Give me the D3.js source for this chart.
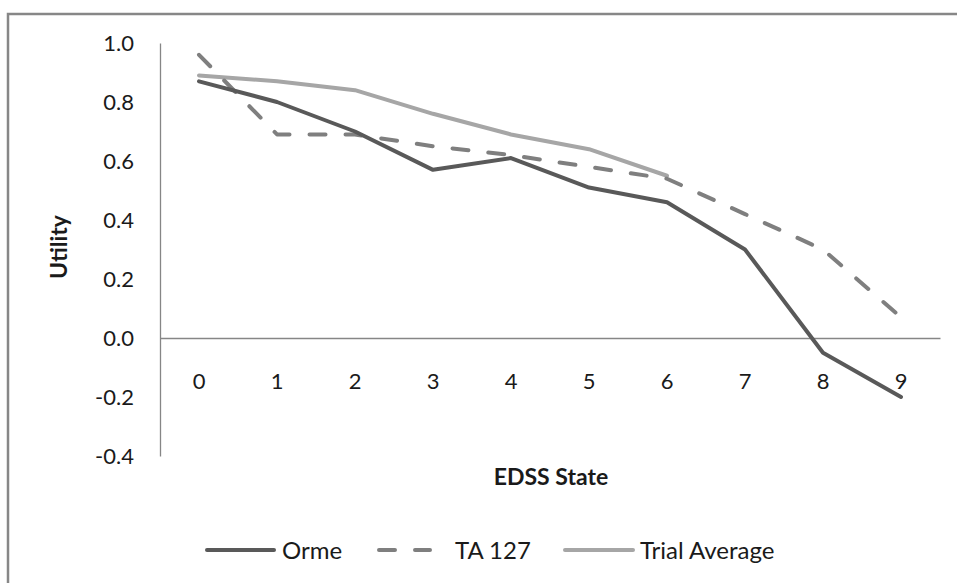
<!DOCTYPE html>
<html>
<head>
<meta charset="utf-8">
<script src="https://cdn.jsdelivr.net/npm/d3@7"></script>
<style>
  html, body { margin: 0; padding: 0; background: #fff; }
  svg { display: block; }
  text { font-family: Lato, "Open Sans", sans-serif; fill: #1a1a1a; }
</style>
</head>
<body>
<svg id="chart" width="957" height="583"></svg>
<script>
// EDSS states on the category axis
const edssStates = ["0", "1", "2", "3", "4", "5", "6", "7", "8", "9"];
// Utility values per EDSS state for each source
const ormeValues = [0.87, 0.80, 0.70, 0.57, 0.61, 0.51, 0.46, 0.30, -0.05, -0.20];
const ta127Values = [0.96, 0.69, 0.69, 0.65, 0.62, 0.58, 0.54, 0.42, 0.30, 0.07];
const trialAverageValues = [0.89, 0.87, 0.84, 0.76, 0.69, 0.64, 0.55];
const seriesNames = ["Orme", "TA 127", "Trial Average"];
const yTickValues = [-0.4, -0.2, 0.0, 0.2, 0.4, 0.6, 0.8, 1.0];

const svg = d3.select("#chart");

// chart-area frame
svg.append("rect")
  .attr("x", 8).attr("y", 14)
  .attr("width", 1000).attr("height", 700)
  .attr("fill", "none").attr("stroke", "#878787").attr("stroke-width", 2.5);

const plot = { left: 160, right: 940, top: 43, bottom: 456 };

const x = d3.scaleBand().domain(edssStates).range([plot.left, plot.right]);
const y = d3.scaleLinear().domain([-0.4, 1.0]).range([plot.bottom, plot.top]);

// value axis
const yAxis = svg.append("g")
  .attr("transform", `translate(${plot.left},0)`)
  .call(d3.axisLeft(y).tickValues(yTickValues).tickFormat(d3.format(".1f")).tickSize(0).tickPadding(26));
yAxis.select(".domain").attr("stroke", "#868686").attr("stroke-width", 1.3);
yAxis.selectAll("text").style("font-size", "22px").attr("fill", "#1a1a1a")
  .text(d => d3.format(".1f")(d).replace("−", "-"));

// category axis on the zero line
const xAxis = svg.append("g")
  .attr("transform", `translate(0,${y(0)})`)
  .call(d3.axisBottom(x).tickSize(0).tickPadding(35));
xAxis.select(".domain").attr("stroke", "#868686").attr("stroke-width", 1.3);
xAxis.selectAll("text").style("font-size", "22px").attr("fill", "#1a1a1a");

// axis titles
svg.append("text")
  .attr("x", 551).attr("y", 485)
  .attr("text-anchor", "middle")
  .style("font-size", "23px").style("font-weight", "bold")
  .text("EDSS State");
svg.append("text")
  .attr("transform", "translate(67,247) rotate(-90)")
  .attr("text-anchor", "middle")
  .style("font-size", "23px").style("font-weight", "bold")
  .text("Utility");

const line = d3.line()
  .x((d, i) => x(edssStates[i]) + x.bandwidth() / 2)
  .y(d => y(d));

const styles = [
  { name: seriesNames[0], values: ormeValues, color: "#595959", dash: null },
  { name: seriesNames[1], values: ta127Values, color: "#7f7f7f", dash: "16,20" },
  { name: seriesNames[2], values: trialAverageValues, color: "#a6a6a6", dash: null }
];

// draw order: trial average beneath, then TA 127, then Orme
[styles[2], styles[1], styles[0]].forEach(s => {
  svg.append("path")
    .datum(s.values)
    .attr("d", line)
    .attr("fill", "none")
    .attr("stroke", s.color)
    .attr("stroke-width", 4)
    .attr("stroke-linejoin", "round")
    .attr("stroke-linecap", "round")
    .attr("stroke-dasharray", s.dash);
});

// legend
const legendY = 550;
const legendItems = [
  { s: styles[0], x0: 207, x1: 274, tx: 282 },
  { s: styles[1], x0: 379, x1: 430, tx: 455 },
  { s: styles[2], x0: 565, x1: 633, tx: 640 }
];
legendItems.forEach(it => {
  svg.append("line")
    .attr("x1", it.x0).attr("x2", it.x1)
    .attr("y1", legendY).attr("y2", legendY)
    .attr("stroke", it.s.color).attr("stroke-width", 4)
    .attr("stroke-linecap", "round")
    .attr("stroke-dasharray", it.s.dash);
  svg.append("text")
    .attr("x", it.tx).attr("y", legendY + 8.5)
    .style("font-size", "24px")
    .text(it.s.name);
});
</script>
</body>
</html>
